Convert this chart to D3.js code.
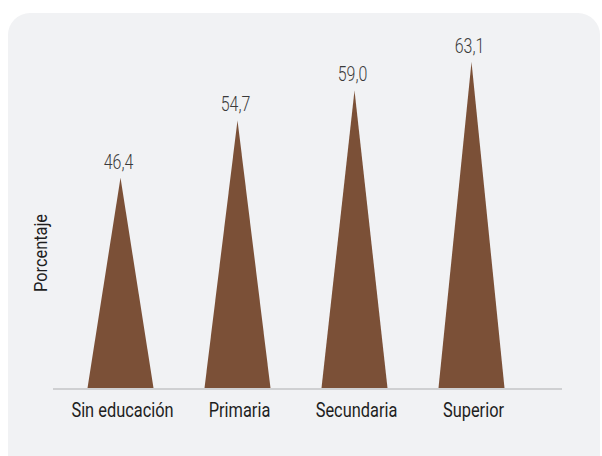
<!DOCTYPE html>
<html>
<head>
<meta charset="utf-8">
<script src="https://cdn.jsdelivr.net/npm/d3@7"></script>
<style>
  html, body { margin: 0; padding: 0; background: #ffffff; }
  svg { display: block; }
  text { font-family: Roboto, "Noto Sans", "DejaVu Sans Condensed", sans-serif; }
</style>
</head>
<body>
<svg id="chart" width="602" height="456"></svg>
<script>
const categories = ["Sin educación", "Primaria", "Secundaria", "Superior"];
const values = [46.4, 54.7, 59.0, 63.1];
const valueLabels = ["46,4", "54,7", "59,0", "63,1"];
const yTitle = "Porcentaje";

const svg = d3.select("#chart");

// background panel
svg.append("rect")
  .attr("x", 8).attr("y", 13)
  .attr("width", 592).attr("height", 470)
  .attr("rx", 22).attr("ry", 22)
  .attr("fill", "#f1f2f4");

const baseY = 388;
const x = d3.scaleBand()
  .domain(categories)
  .range([62, 530])
  .paddingInner(0.436)
  .paddingOuter(0.218);

const y = d3.scaleLinear()
  .domain([16, 70])
  .range([baseY, baseY - 54 * 6.92]);

const data = categories.map((c, i) => ({ c, v: values[i], label: valueLabels[i] }));

// triangles
svg.append("g").selectAll("path")
  .data(data)
  .enter().append("path")
  .attr("d", d => {
    const x0 = x(d.c), x1 = x(d.c) + x.bandwidth(), xm = x(d.c) + x.bandwidth() / 2;
    return `M${x0},${y(16)} L${xm},${y(d.v)} L${x1},${y(16)} Z`;
  })
  .attr("fill", "#7b5037");

// baseline
svg.append("line")
  .attr("x1", 53).attr("x2", 562)
  .attr("y1", baseY + 1).attr("y2", baseY + 1)
  .attr("stroke", "#cfd0d2").attr("stroke-width", 2);

// condensed text helper: horizontal scale around anchor point
function condensed(sel, cx, cy, rot, k) {
  sel.attr("x", 0).attr("y", 0)
     .attr("text-anchor", "middle")
     .attr("transform", (d, i) => {
       const X = typeof cx === "function" ? cx(d, i) : cx;
       const Y = typeof cy === "function" ? cy(d, i) : cy;
       return `translate(${X},${Y})` + (rot ? ` rotate(${rot})` : "") + ` scale(${k},1)`;
     });
}

// value labels
svg.append("g").selectAll("text")
  .data(data)
  .enter().append("text")
  .attr("font-size", 21)
  .attr("font-weight", 300)
  .attr("fill", "#3a3a3a")
  .text(d => d.label)
  .call(condensed, d => x(d.c) + x.bandwidth() / 2 - 2, d => y(d.v) - 9, 0, 0.76);

// category labels
svg.append("g").selectAll("text")
  .data(data)
  .enter().append("text")
  .attr("font-size", 21)
  .attr("fill", "#1e1e1e")
  .text(d => d.c)
  .call(condensed, d => x(d.c) + x.bandwidth() / 2 + 2, 417, 0, 0.78);

// y title
svg.append("text")
  .attr("font-size", 19)
  .attr("fill", "#1e1e1e")
  .text(yTitle)
  .call(condensed, 47, 253, -90, 0.86);
</script>
</body>
</html>
